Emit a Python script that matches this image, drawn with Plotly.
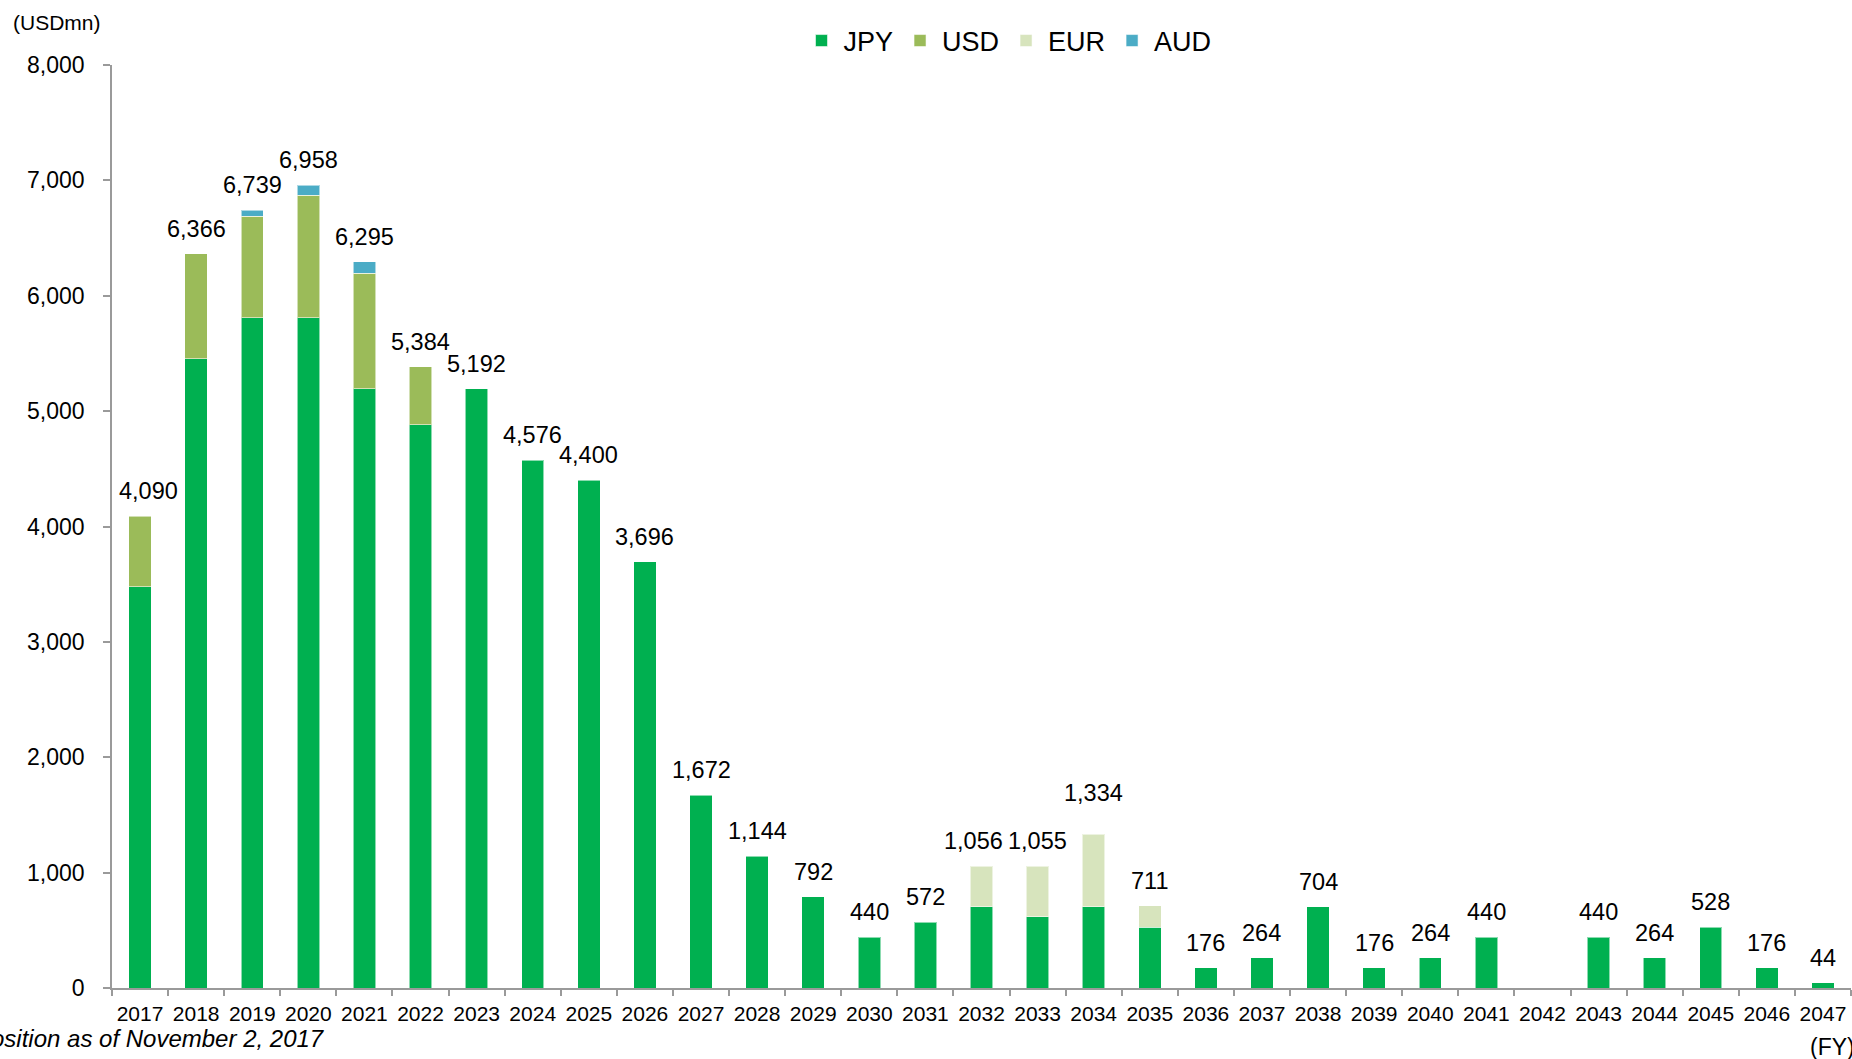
import plotly.graph_objects as go

# Fiscal years on the x axis
years = [str(y) for y in range(2017, 2048)]

# Redemption amounts by currency (USD millions)
jpy = [3476, 5456, 5808, 5808, 5192, 4884, 5192, 4576, 4400, 3696,
       1672, 1144, 792, 440, 572, 704, 616, 704, 528, 176,
       264, 704, 176, 264, 440, 0, 440, 264, 528, 176, 44]
usd = [614, 910, 882, 1064, 1004, 500] + [0] * 25
eur = [0] * 15 + [352, 439, 630, 183] + [0] * 12
aud = [0, 0, 49, 86, 99] + [0] * 26

series = [
    ("JPY", jpy, "#00B050"),
    ("USD", usd, "#9BBB59"),
    ("EUR", eur, "#D7E4BD"),
    ("AUD", aud, "#4BACC6"),
]

totals = [a + b + c + d for a, b, c, d in zip(jpy, usd, eur, aud)]

FONT = "Liberation Sans, Arial, sans-serif"
AXIS_GREY = "#9a9a9a"

fig = go.Figure()
for name, vals, color in series:
    fig.add_trace(go.Bar(
        x=years,
        y=[v if v else None for v in vals],
        name=name,
        marker=dict(color=color, line=dict(color="rgba(255,255,255,0.55)", width=1)),
        hoverinfo="x+y+name",
    ))

# Total labels above each stacked column (a few nudged to avoid overlaps)
nudges = {"2017": (8, 0), "2032": (-8, 0), "2034": (0, 16)}
annotations = []
for i, (yr, tot) in enumerate(zip(years, totals)):
    if tot <= 0:
        continue
    dx, dy = nudges.get(yr, (0, 0))
    annotations.append(dict(
        x=i, y=tot, xref="x", yref="y",
        text=f"{tot:,}", showarrow=False,
        yanchor="middle", yshift=25 + dy, xshift=dx,
        font=dict(family=FONT, size=23.5, color="#000000"),
    ))

W, H = 1852, 1059
L, R, T, B = 112, 1, 65, 71
pw, ph = W - L - R, H - T - B


def px_x(px):
    return (px - L) / pw


def px_y(py):
    return (H - B - py) / ph


annotations += [
    dict(x=px_x(11), y=px_y(22), xref="paper", yref="paper", text="(USDmn)",
         showarrow=False, xanchor="left", yanchor="middle",
         font=dict(family=FONT, size=21, color="#000000")),
    dict(x=px_x(327), y=px_y(1038), xref="paper", yref="paper",
         text="<i>Position as of November 2, 2017</i>",
         showarrow=False, xanchor="right", yanchor="middle",
         font=dict(family=FONT, size=24, color="#000000")),
    dict(x=px_x(1857), y=px_y(1047), xref="paper", yref="paper", text="(FY)",
         showarrow=False, xanchor="right", yanchor="middle",
         font=dict(family=FONT, size=23, color="#000000")),
]

fig.update_layout(
    barmode="stack",
    bargap=0.6,
    width=W, height=H,
    margin=dict(l=L, r=R, t=T, b=B, pad=0),
    plot_bgcolor="white",
    paper_bgcolor="white",
    font=dict(family=FONT, color="#000000"),
    legend=dict(
        orientation="h", x=px_x(1008), y=px_y(41),
        xanchor="center", yanchor="middle",
        font=dict(family=FONT, size=27, color="#000000"),
        traceorder="normal", itemwidth=34,
    ),
    annotations=annotations,
    xaxis=dict(
        type="category", range=[-0.5, len(years) - 0.5],
        showline=True, linecolor=AXIS_GREY, linewidth=1.5,
        ticks="outside", tickson="boundaries", ticklen=6,
        tickcolor=AXIS_GREY, tickwidth=1.5,
        showgrid=False, tickangle=0,
        ticklabelstandoff=6,
        tickfont=dict(family=FONT, size=21, color="#000000"),
    ),
    yaxis=dict(
        range=[0, 8000], dtick=1000, tickformat=",",
        showline=True, linecolor=AXIS_GREY, linewidth=1.5,
        ticks="outside", ticklen=7, tickcolor=AXIS_GREY, tickwidth=1.5,
        showgrid=False, zeroline=False,
        ticklabelstandoff=14,
        tickfont=dict(family=FONT, size=23, color="#000000"),
    ),
)

fig.write_html("out.html")
